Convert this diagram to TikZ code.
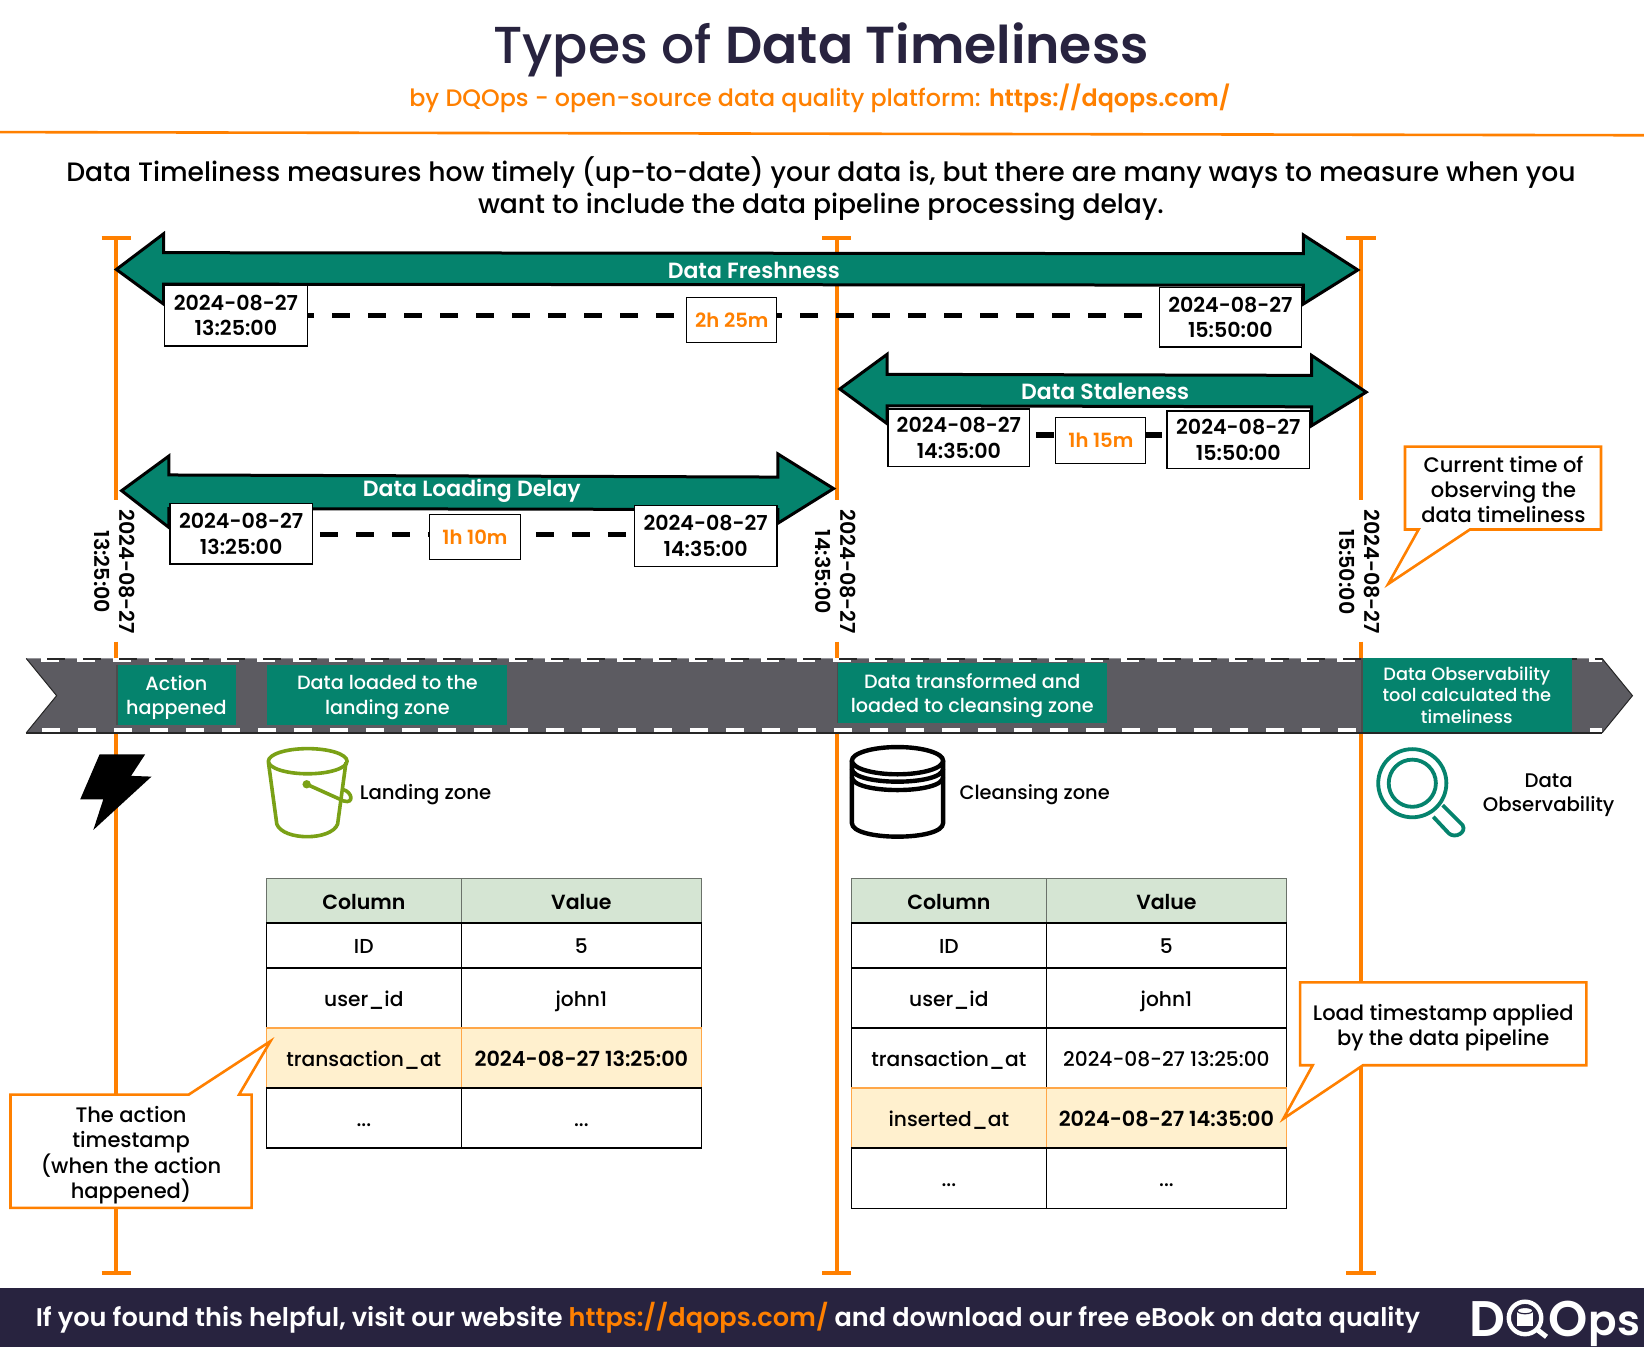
\documentclass[tikz,border=0pt]{standalone}
\usepackage{fontspec}
\setmainfont{Poppins Medium}[BoldFont={Poppins SemiBold}]
\definecolor{orng}{HTML}{FF8000}
\definecolor{teal2}{HTML}{05836D}
\definecolor{navy}{HTML}{28233F}
\definecolor{bandc}{HTML}{5C5B61}
\definecolor{hdr}{HTML}{D5E5D3}
\definecolor{hl}{HTML}{FFF0CE}
\definecolor{olive2}{HTML}{7AA116}
\newcommand{\fs}[2]{\fontsize{#1}{#2}\selectfont}
\newcommand{\boxnode}[7]{%
  \pgfmathsetmacro{\bw}{(#4-#2)*1.0485}%
  \pgfmathsetmacro{\bh}{(#5-#3)*1.0485}%
  \pgfmathsetmacro{\bx}{(#2+#4)/2}%
  \pgfmathsetmacro{\by}{(#3+#5)/2}%
  \node[#6,minimum width=\bw pt,minimum height=\bh pt] (#1) at (\bx,\by) {#7};}
\tikzset{
  bx/.style={inner sep=0pt,outer sep=0pt,align=center},
  datebox/.style={bx,draw=black,fill=white,line width=1.3pt,font=\fs{20.6}{25.5}\bfseries},
  gapbox/.style={bx,draw=black,fill=white,line width=1pt,font=\fs{19.6}{23}\bfseries,text=orng},
  gapline/.style={line width=5.5pt,draw=black},
  tline/.style={draw=orng,line width=4pt},
  tcap/.style={draw=orng,line width=4pt},
  bigarrow/.style={draw=black,fill=teal2,line width=3pt,miter limit=10},
  arrowlabel/.style={text=white,font=\fs{22}{25}\bfseries,inner sep=0pt},
  stamp/.style={rotate=-90,align=center,font=\fs{20.6}{25}\bfseries,inner sep=0pt},
  eventbox/.style={bx,fill=teal2,text=white,text depth=0pt,font=\fs{19.2}{24.3}\selectfont},
  obsbox/.style={bx,fill=teal2,text=white,font=\fs{17.8}{21.5}\selectfont},
  plain/.style={align=center,inner sep=0pt,font=\fs{19.7}{24}\selectfont},
  callout/.style={draw=orng,fill=white,line width=2.6pt,miter limit=10},
  calltext/.style={align=center,inner sep=0pt,font=\fs{21}{25}\selectfont},
  cellfix/.style={text height=22pt,text depth=5pt},
  hcell/.style={bx,cellfix,draw=black!50!hdr,fill=hdr,line width=1.5pt,font=\fs{20.5}{24}\bfseries},
  cell/.style={bx,cellfix,draw=black,fill=white,line width=1.5pt,font=\fs{20.2}{24}\selectfont},
  hlcell/.style={bx,cellfix,draw=orng!65!hl,fill=hl,line width=1.5pt,font=\fs{20.2}{24}\selectfont},
}
\newcommand{\hltime}[1]{{\fs{20.8}{24}\bfseries #1}}
\begin{document}
\begin{tikzpicture}[x=1.0485pt,y=-1.0485pt,line join=miter]
\useasboundingbox (0,0) rectangle (1568,1284.7);
\fill[white] (0,0) rectangle (1568,1284.7);

% header
\node[inner sep=0pt,text=navy,font=\fs{52}{60}\selectfont] (title) at (783,48) {Types of \textbf{Data Timeliness}};
\node[inner sep=0pt,text=orng,font=\fs{23.8}{28}\selectfont] (subtitle) at (782,94) {by DQOps - open-source data quality platform: \textbf{https://dqops.com/}};
\coordinate (ruleL) at (0,126);
\coordinate (ruleR) at (1568,129);
\draw[draw=orng,line width=2.6pt] (ruleL) -- (ruleR);
\node[align=center,inner sep=0pt,font=\fs{26.6}{31.5}\selectfont] (intro) at (783,180) {Data Timeliness measures how timely (up-to-date) your data is, but there are many ways to measure when you\\want to include the data pipeline processing delay.};

% timelines
\foreach \n/\x in {a/111,b/798,c/1298}{
  \coordinate (\n top) at (\x,227);
  \coordinate (\n gapA) at (\x,477);
  \coordinate (\n gapB) at (\x,612);
  \coordinate (\n bot) at (\x,1214);
  \draw[tline] (\n top) -- (\n gapA);
  \draw[tline] (\n gapB) -- (\n bot);
  \draw[tcap] (\x-14,227) -- (\x+14,227);
  \draw[tcap] (\x-14,1214) -- (\x+14,1214);
}
\node[stamp] (sa) at (109.5,545.5) {2024-08-27\\13:25:00};
\node[stamp] (sb) at (796.5,545.5) {2024-08-27\\14:35:00};
\node[stamp] (sc) at (1296.5,545.5) {2024-08-27\\15:50:00};

% Data Freshness
\draw[bigarrow] (111,257) -- (156,223) -- (156,241) -- (1243,242) -- (1243,224) -- (1295,257.5) -- (1243,290) -- (1243,272) -- (156,271) -- (156,290) -- cycle;
\node[arrowlabel] (fname) at (719,258) {Data Freshness};
% Data Staleness
\draw[bigarrow] (801,371) -- (846,338) -- (846,357) -- (1251,358) -- (1251,339) -- (1303,374) -- (1251,406) -- (1251,388) -- (846,387) -- (846,404) -- cycle;
\node[arrowlabel] (sname) at (1054,373) {Data Staleness};
% Data Loading Delay
\draw[bigarrow] (116,468) -- (161,435) -- (161,453) -- (742,455) -- (742,433) -- (795,466) -- (742,499) -- (742,486) -- (161,485) -- (161,503) -- cycle;
\node[arrowlabel] (lname) at (450,468) {Data Loading Delay};

% date boxes
\boxnode{fl}{157}{272}{293}{330}{datebox}{2024-08-27\\13:25:00}
\boxnode{fr}{1106}{274}{1241}{331}{datebox}{2024-08-27\\15:50:00}
\boxnode{sl}{847}{390}{982}{445}{datebox}{2024-08-27\\14:35:00}
\boxnode{sr}{1113}{392}{1249}{447}{datebox}{2024-08-27\\15:50:00}
\boxnode{ll}{162}{480}{298}{538}{datebox}{2024-08-27\\13:25:00}
\boxnode{lr}{605}{482}{741}{540}{datebox}{2024-08-27\\14:35:00}
\coordinate (fy) at (0,301);
\coordinate (sy) at (0,415);
\coordinate (ly) at (0,510);
\draw[gapline,dash pattern=on 18pt off 18pt,dash phase=11pt] (fl.east |- fy) -- (fr.west |- fy);
\draw[gapline,dash pattern=on 18pt off 18pt,dash phase=29.7pt] (sl.east |- sy) -- (sr.west |- sy);
\draw[gapline,dash pattern=on 18pt off 18pt,dash phase=28.6pt] (ll.east |- ly) -- (lr.west |- ly);
\boxnode{fm}{655}{284}{741}{327}{gapbox}{2h 25m}
\boxnode{sm}{1007}{398}{1093}{442}{gapbox}{1h 15m}
\boxnode{lm}{410}{491}{496}{534}{gapbox}{1h 10m}

% band
\fill[bandc] (25,628) -- (1528,628) -- (1557,663.5) -- (1528,699) -- (25,699) -- (54,663.5) -- cycle;
\draw[white,line width=4.2pt,dash pattern=on 18pt off 18pt] (39,629.8) -- (1528,629.8);
\draw[white,line width=4.2pt,dash pattern=on 18pt off 18pt] (40,696.2) -- (1528,696.2);
\draw[black!85,line width=1.6pt,dash pattern=on 18pt off 18pt,dash phase=18pt] (28,628.3) -- (1528,628.3);
\draw[black!85,line width=1.5pt] (25,699) -- (1528,699);
\draw[black!85,line width=1pt] (25,628) -- (54,663.5) -- (25,699);
\draw[black!85,line width=1pt] (1528,628) -- (1557,663.5) -- (1528,699);
\boxnode{e1}{111.5}{634}{225}{691.5}{eventbox}{Action\\happened}
\boxnode{e2}{255}{634}{484}{691.5}{eventbox}{Data loaded to the\\landing zone}
\boxnode{e3}{799}{632.7}{1055.6}{690}{eventbox}{Data transformed and\\loaded to cleansing zone}
\boxnode{e4}{1299}{628}{1499}{698}{obsbox}{Data Observability\\tool calculated the\\timeliness}
\draw[black!70,line width=1.2pt] (e1.north west) -- (e1.south west);
\draw[black!70,line width=1.2pt] (e3.north west) -- (e3.south west);
\draw[black!70,line width=1.2pt] (e4.north west) -- (e4.south west);

% bolt
\fill[black] (95,719.4) -- (138.5,719.4) -- (125,740) -- (144.5,740.7) -- (89,791.6) -- (98.5,762.4) -- (76.5,762.4) -- cycle;

% bucket
\begin{scope}[draw=olive2,line width=3.6pt]
\draw (293.5,726) ellipse [x radius=37.5,y radius=12];
\draw (256,727) -- (264,786) .. controls (270,802) and (316,802) .. (322,786) -- (330,727);
\draw[line cap=round] (292.5,748) -- (328,764) .. controls (338,767) and (336,755) .. (327,753);
\fill[olive2] (292.5,748) circle [radius=4];
\end{scope}
\node[plain,anchor=west] (landing) at (343,758) {Landing zone};

% cylinder
\begin{scope}[draw=black,line width=4.4pt]
\draw (856,725.5) ellipse [x radius=43.5,y radius=13];
\draw (812.5,733) .. controls (812.5,749.7) and (899.5,749.7) .. (899.5,733);
\draw (812.5,741) .. controls (812.5,757.7) and (899.5,757.7) .. (899.5,741);
\draw (812.5,726) -- (812.5,785) .. controls (812.5,802.3) and (899.5,802.3) .. (899.5,785) -- (899.5,726);
\end{scope}
\node[plain,anchor=west,font=\fs{19.4}{24}\selectfont] (cleansing) at (915,758) {Cleansing zone};

% magnifier
\begin{scope}[draw=teal2,line width=3.8pt]
\draw (1347,747) circle [radius=32.5];
\draw (1347,747) circle [radius=22.5];
\draw[line join=round] (1367,779) -- (1382,795) .. controls (1388,800) and (1399,794) .. (1395,787) -- (1376,768);
\end{scope}
\node[plain] (obs) at (1477,758) {Data\\Observability};

% tables
\foreach \p/\x/\xa/\xb in {a/254/440/669,b/812/998/1227}{
  \boxnode{\p h1}{\x}{838}{\xa}{880.5}{hcell}{Column}
  \boxnode{\p h2}{\xa}{838}{\xb}{880.5}{hcell}{Value}
  \boxnode{\p i1}{\x}{880.5}{\xa}{923}{cell}{ID}
  \boxnode{\p i2}{\xa}{880.5}{\xb}{923}{cell}{5}
  \boxnode{\p u1}{\x}{923}{\xa}{980.5}{cell}{user\_id}
  \boxnode{\p u2}{\xa}{923}{\xb}{980.5}{cell}{john1}
}
\boxnode{at1}{254}{980.5}{440}{1037.5}{hlcell}{transaction\_at}
\boxnode{at2}{440}{980.5}{669}{1037.5}{hlcell}{\hltime{2024-08-27 13:25:00}}
\boxnode{ad1}{254}{1037.5}{440}{1095}{cell}{...}
\boxnode{ad2}{440}{1037.5}{669}{1095}{cell}{...}
\boxnode{bt1}{812}{980.5}{998}{1037.5}{cell}{transaction\_at}
\boxnode{bt2}{998}{980.5}{1227}{1037.5}{cell}{2024-08-27 13:25:00}
\boxnode{bn1}{812}{1037.5}{998}{1095}{hlcell}{inserted\_at}
\boxnode{bn2}{998}{1037.5}{1227}{1095}{hlcell}{\hltime{2024-08-27 14:35:00}}
\boxnode{bd1}{812}{1095}{998}{1152.5}{cell}{...}
\boxnode{bd2}{998}{1095}{1227}{1152.5}{cell}{...}

% callouts
\draw[callout] (1340,426) -- (1527,426) -- (1527,505) -- (1402,505) -- (1324,557) -- (1353,505) -- (1340,505) -- cycle;
\node[calltext] (c1) at (1434,467) {Current time of\\observing the\\data timeliness};
\draw[callout] (10,1044) -- (180,1044) -- (258,993) -- (228,1044) -- (240,1044) -- (240,1152) -- (10,1152) -- cycle;
\node[calltext] (c2) at (125,1102) {The action\\timestamp\\(when the action\\happened)};
\draw[callout] (1240,937) -- (1513,937) -- (1513,1016) -- (1300,1016) -- (1224,1067) -- (1252,1016) -- (1240,1016) -- cycle;
\node[calltext] (c3) at (1376.5,980) {Load timestamp applied\\by the data pipeline};

% footer
\fill[navy] (0,1228) rectangle (1568,1284.7);
\node[anchor=west,inner sep=0pt,text=white,font=\fs{25.6}{31}\bfseries] (foot) at (34,1257) {If you found this helpful, visit our website {\color{orng}https://dqops.com/} and download our free eBook on data quality};
\node[inner sep=0pt,text=white,font=\fs{50}{50}\bfseries] (logoD) at (1419,1258) {D};
\draw[white,line width=4.4pt] (1454.5,1257) circle [radius=15.5];
\draw[white,line width=5pt] (1466,1268) -- (1475,1275);
\fill[white] (1447,1250) rectangle (1462,1265);
\fill[white] (1454.5,1250) circle [x radius=7.5,y radius=3];
\draw[navy,line width=1.2pt] (1454.5,1250) ellipse [x radius=7.5,y radius=3];
\node[inner sep=0pt,text=white,font=\fs{50}{50}\bfseries] (logoO) at (1496,1258) {O};
\node[anchor=base west,inner sep=0pt,text=white,font=\fs{42}{42}\bfseries] (logoP) at (1515,1274) {ps};
\end{tikzpicture}
\end{document}
